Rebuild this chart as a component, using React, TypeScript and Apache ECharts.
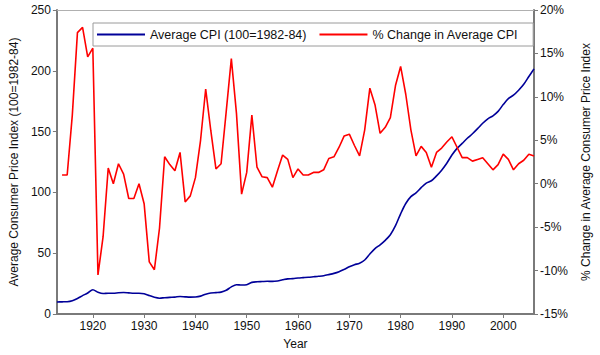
import React, { useEffect, useRef } from "react";
import * as echarts from "echarts";

const years: number[] = [];
for (let y = 1913; y <= 2006; y++) years.push(y);

// Average CPI (100 = 1982-84), 1913..2006
const cpi = [
  9.9, 10.0, 10.1, 10.9, 12.8, 15.1, 17.3, 20.0, 17.9, 16.8,
  17.1, 17.1, 17.5, 17.7, 17.4, 17.1, 17.1, 16.7, 15.2, 13.7,
  13.0, 13.4, 13.7, 13.9, 14.4, 14.1, 13.9, 14.0, 14.7, 16.3,
  17.3, 17.6, 18.0, 19.5, 22.3, 24.1, 23.8, 24.1, 26.0, 26.5,
  26.7, 26.9, 26.8, 27.2, 28.1, 28.9, 29.1, 29.6, 29.9, 30.2,
  30.6, 31.0, 31.5, 32.4, 33.4, 34.8, 36.7, 38.8, 40.5, 41.8,
  44.4, 49.3, 53.8, 56.9, 60.6, 65.2, 72.6, 82.4, 90.9, 96.5,
  99.6, 103.9, 107.6, 109.6, 113.6, 118.3, 124.0, 130.7, 136.2, 140.3,
  144.5, 148.2, 152.4, 156.9, 160.5, 163.0, 166.6, 172.2, 177.1, 179.9,
  184.0, 188.9, 195.3, 201.6,
];

// % change in average CPI, 1914..2006
const pctChange = [
  1.0, 1.0, 7.9, 17.4, 18.0, 14.6, 15.6, -10.5, -6.1,
  1.8, 0.0, 2.3, 1.1, -1.7, -1.7, 0.0, -2.3, -9.0, -9.9,
  -5.1, 3.1, 2.2, 1.5, 3.6, -2.1, -1.4, 0.7, 5.0, 10.9,
  6.1, 1.7, 2.3, 8.3, 14.4, 8.1, -1.2, 1.3, 7.9, 1.9,
  0.8, 0.7, -0.4, 1.5, 3.3, 2.8, 0.7, 1.7, 1.0, 1.0,
  1.3, 1.3, 1.6, 2.9, 3.1, 4.2, 5.5, 5.7, 4.4, 3.2,
  6.2, 11.0, 9.1, 5.8, 6.5, 7.6, 11.3, 13.5, 10.3, 6.2,
  3.2, 4.3, 3.6, 1.9, 3.6, 4.1, 4.8, 5.4, 4.2, 3.0,
  3.0, 2.6, 2.8, 3.0, 2.3, 1.6, 2.2, 3.4, 2.8, 1.6,
  2.3, 2.7, 3.4, 3.2,
];

const leftTicks = { min: 0, max: 250, interval: 50 };
const rightTicks = { min: -15, max: 20, interval: 5 };

const FONT = "Liberation Sans, Arial, sans-serif";
const AXIS_COLOR = "#7a7a7a";

export default function App() {
  const ref = useRef<HTMLDivElement>(null);
  useEffect(() => {
    if (!ref.current) return;
    const chart = echarts.init(ref.current, undefined, { renderer: "svg" });
    const cats = years.map(String);
    const pctData = [null, ...pctChange];
    const textStyle = { color: "#111", fontFamily: FONT, fontSize: 12 };
    chart.setOption({
      animation: false,
      backgroundColor: "#ffffff",
      textStyle: { fontFamily: FONT },
      grid: { left: 52, right: 59, top: 10, bottom: 38, containLabel: false },
      legend: {
        left: 93,
        top: 23,
        icon: "rect",
        itemWidth: 48,
        itemHeight: 2,
        itemGap: 13,
        padding: [5, 15, 5, 4],
        borderColor: "#9a9a9a",
        borderWidth: 1,
        backgroundColor: "#ffffff",
        textStyle: { ...textStyle, fontSize: 12.5 },
        data: ["Average CPI (100=1982-84)", "% Change in Average CPI"],
      },
      xAxis: [
        {
          type: "category",
          data: cats,
          boundaryGap: false,
          name: "Year",
          nameLocation: "middle",
          nameGap: 24,
          nameTextStyle: textStyle,
          axisLine: { onZero: false, lineStyle: { color: AXIS_COLOR, width: 2 } },
          axisTick: {
            length: 4,
            lineStyle: { color: AXIS_COLOR },
            interval: (i: number, v: string) => Number(v) % 10 === 0,
          },
          axisLabel: {
            ...textStyle,
            margin: 6,
            interval: (i: number, v: string) => Number(v) % 10 === 0,
          },
          splitLine: { show: false },
        },
        {
          type: "category",
          data: cats,
          boundaryGap: false,
          position: "top",
          axisLine: { onZero: false, lineStyle: { color: "#b0b0b0", width: 1 } },
          axisTick: { show: false },
          axisLabel: { show: false },
          splitLine: { show: false },
        },
      ],
      yAxis: [
        {
          type: "value",
          ...leftTicks,
          position: "left",
          name: "Average Consumer Price Index (100=1982-84)",
          nameLocation: "middle",
          nameRotate: 90,
          nameGap: 34,
          nameTextStyle: textStyle,
          axisLine: { show: true, onZero: false, lineStyle: { color: AXIS_COLOR, width: 2 } },
          axisTick: { show: true, length: 4, lineStyle: { color: AXIS_COLOR } },
          axisLabel: { ...textStyle, margin: 6 },
          splitLine: { show: false },
        },
        {
          type: "value",
          ...rightTicks,
          position: "right",
          name: "% Change in Average Consumer Price Index",
          nameLocation: "middle",
          nameRotate: 90,
          nameGap: 46,
          nameTextStyle: textStyle,
          axisLine: { show: true, onZero: false, lineStyle: { color: AXIS_COLOR, width: 2 } },
          axisTick: { show: true, length: 4, lineStyle: { color: AXIS_COLOR } },
          axisLabel: { ...textStyle, margin: 6, formatter: "{value}%" },
          splitLine: { show: false },
        },
      ],
      series: [
        {
          name: "Average CPI (100=1982-84)",
          type: "line",
          xAxisIndex: 0,
          yAxisIndex: 0,
          data: cpi,
          symbol: "none",
          smooth: 0.3,
          lineStyle: { color: "#000099", width: 1.6 },
          itemStyle: { color: "#000099" },
        },
        {
          name: "% Change in Average CPI",
          type: "line",
          xAxisIndex: 0,
          yAxisIndex: 1,
          data: pctData,
          symbol: "none",
          lineStyle: { color: "#ff0000", width: 1.6 },
          itemStyle: { color: "#ff0000" },
        },
      ],
    });
    return () => chart.dispose();
  }, []);
  return <div ref={ref} style={{ width: 600, height: 355, position: "absolute", left: 0, top: 0 }} />;
}
